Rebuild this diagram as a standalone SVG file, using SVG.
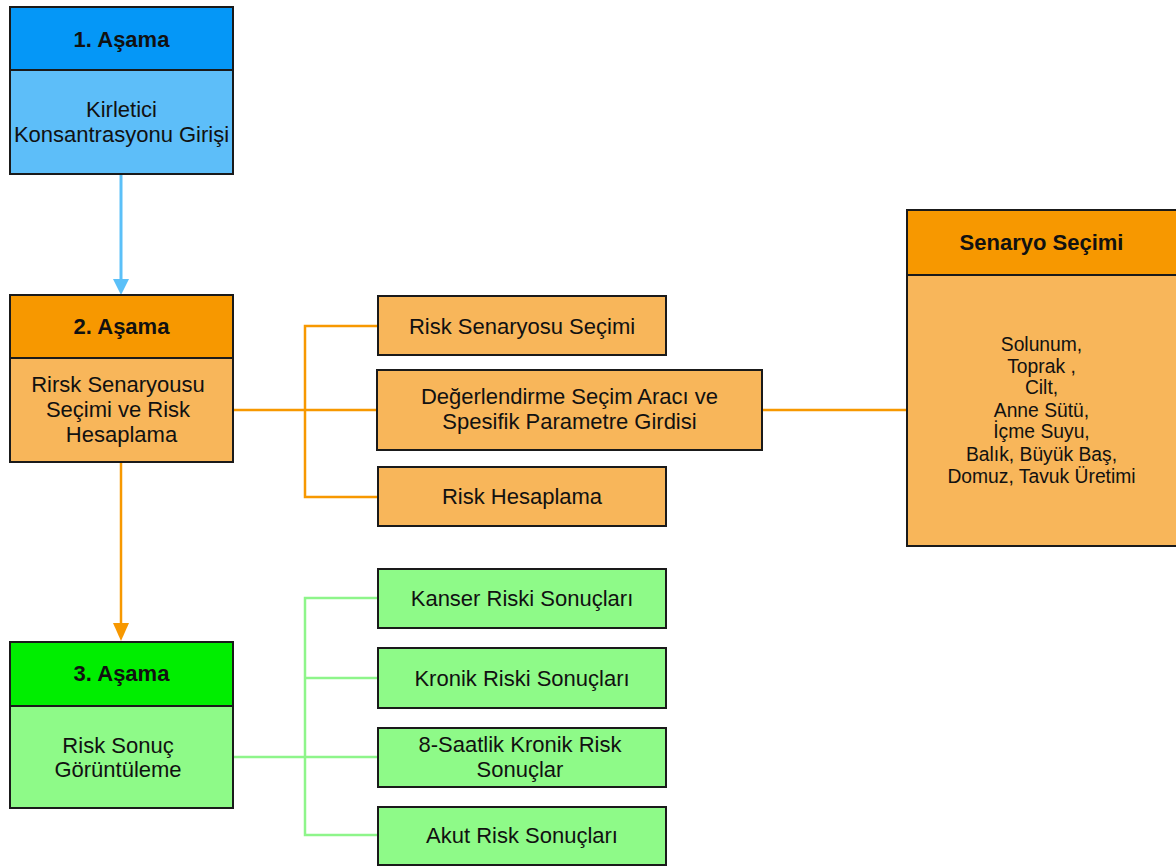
<svg xmlns="http://www.w3.org/2000/svg" width="1176" height="866" viewBox="0 0 1176 866">
  <defs>
    <style>
      text { font-family: "Liberation Sans", Arial, sans-serif; fill: #111; text-anchor: middle; }
      .hd { font-size: 22px; font-weight: bold; }
      .bd { font-size: 22px; }
      .sm { font-size: 19.3px; }
      .box { stroke: #1a1a1a; stroke-width: 2; }
      .blueH { fill: #0597F7; }
      .blueB { fill: #5DBEF9; }
      .orH { fill: #F79800; }
      .orB { fill: #F8B65A; }
      .grH { fill: #00EE00; }
      .grB { fill: #8EFA88; }
      .ln { fill: none; stroke-width: 2.5; }
      .lb { stroke: #5BC0F8; stroke-width: 3; }
      .lo { stroke: #F79800; }
      .lg { stroke: #8EF58A; }
    </style>
  </defs>

  <!-- connectors -->
  <g id="connectors">
    <line class="ln lb" x1="121" y1="174" x2="121" y2="282"/>
    <path d="M113,279 L129,279 L121,295 Z" fill="#5BC0F8"/>
    <line class="ln lo" x1="121" y1="462" x2="121" y2="626"/>
    <path d="M113,623 L129,623 L121,641 Z" fill="#F79800"/>

    <path class="ln lo" d="M378,326 H305 V497 H378"/>
    <line class="ln lo" x1="233" y1="410" x2="378" y2="410"/>
    <line class="ln lo" x1="762" y1="410" x2="907" y2="410"/>

    <path class="ln lg" d="M378,598 H305 V835 H378"/>
    <line class="ln lg" x1="305" y1="678" x2="378" y2="678"/>
    <line class="ln lg" x1="233" y1="757" x2="378" y2="757"/>
  </g>

  <!-- stage 1 -->
  <g id="stage1">
    <rect class="box blueH" x="10" y="7" width="223" height="63"/>
    <rect class="box blueB" x="10" y="70" width="223" height="104"/>
    <text class="hd" x="121.5" y="47">1. Aşama</text>
    <text class="bd" x="121.5" y="117">Kirletici</text>
    <text class="bd" x="121.5" y="142">Konsantrasyonu Girişi</text>
  </g>

  <!-- stage 2 -->
  <g id="stage2">
    <rect class="box orH" x="10" y="295" width="223" height="63"/>
    <rect class="box orB" x="10" y="358" width="223" height="104"/>
    <text class="hd" x="121.5" y="334">2. Aşama</text>
    <text class="bd" x="118" y="392">Rirsk Senaryousu</text>
    <text class="bd" x="118" y="417">Seçimi ve Risk</text>
    <text class="bd" x="121.5" y="442">Hesaplama</text>
  </g>

  <!-- stage 3 -->
  <g id="stage3">
    <rect class="box grH" x="10" y="642" width="223" height="64"/>
    <rect class="box grB" x="10" y="706" width="223" height="102"/>
    <text class="hd" x="121.5" y="681">3. Aşama</text>
    <text class="bd" x="118" y="753">Risk Sonuç</text>
    <text class="bd" x="118" y="777">Görüntüleme</text>
  </g>

  <!-- stage 2 sub-steps -->
  <g id="riskSenaryosu">
    <rect class="box orB" x="378" y="296" width="288" height="59"/>
    <text class="bd" x="522" y="334">Risk Senaryosu Seçimi</text>
  </g>
  <g id="degerlendirme">
    <rect class="box orB" x="377" y="370" width="385" height="80"/>
    <text class="bd" x="569.5" y="404">Değerlendirme Seçim Aracı ve</text>
    <text class="bd" x="569.5" y="429">Spesifik Parametre Girdisi</text>
  </g>
  <g id="riskHesaplama">
    <rect class="box orB" x="378" y="467" width="288" height="59"/>
    <text class="bd" x="522" y="504">Risk Hesaplama</text>
  </g>

  <!-- scenario selection -->
  <g id="senaryo">
    <rect class="box orH" x="907" y="210" width="272" height="65"/>
    <rect class="box orB" x="907" y="275" width="272" height="271"/>
    <text class="hd" x="1041.5" y="250">Senaryo Seçimi</text>
    <text class="sm" x="1041.5" y="351">Solunum,</text>
    <text class="sm" x="1041.5" y="373">Toprak ,</text>
    <text class="sm" x="1041.5" y="394">Cilt,</text>
    <text class="sm" x="1041.5" y="417">Anne Sütü,</text>
    <text class="sm" x="1041.5" y="438">İçme Suyu,</text>
    <text class="sm" x="1041.5" y="461">Balık, Büyük Baş,</text>
    <text class="sm" x="1041.5" y="483">Domuz, Tavuk Üretimi</text>
  </g>

  <!-- stage 3 results -->
  <g id="kanser">
    <rect class="box grB" x="378" y="569" width="288" height="59"/>
    <text class="bd" x="522" y="606">Kanser Riski Sonuçları</text>
  </g>
  <g id="kronik">
    <rect class="box grB" x="378" y="648" width="288" height="60"/>
    <text class="bd" x="522" y="686">Kronik Riski Sonuçları</text>
  </g>
  <g id="saatlik">
    <rect class="box grB" x="378" y="728" width="288" height="59"/>
    <text class="bd" x="520" y="752">8-Saatlik Kronik Risk</text>
    <text class="bd" x="520" y="777">Sonuçlar</text>
  </g>
  <g id="akut">
    <rect class="box grB" x="378" y="807" width="288" height="58"/>
    <text class="bd" x="522" y="843">Akut Risk Sonuçları</text>
  </g>
</svg>
